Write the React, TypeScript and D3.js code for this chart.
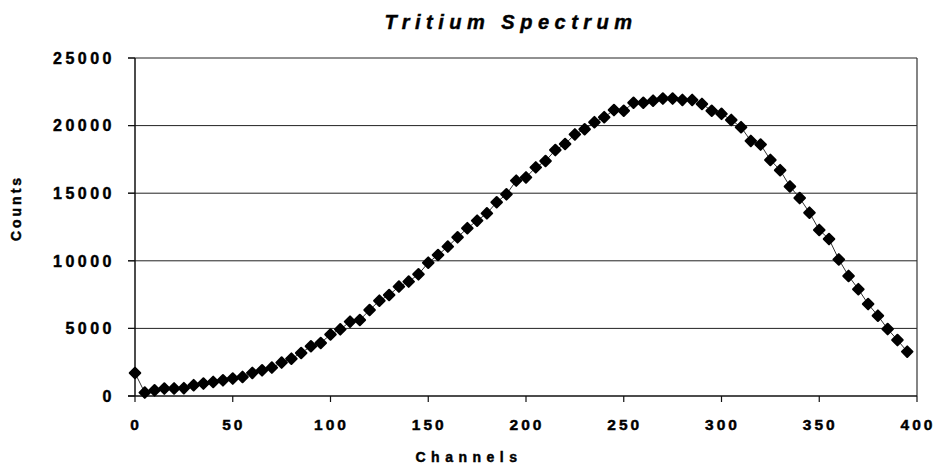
import React from 'react';
import * as d3 from 'd3';

// channel number of every point (every 5 channels)
const channels = [
  0, 5, 10, 15, 20, 25, 30, 35, 40, 45, 50, 55, 60, 65, 70, 75, 80, 85, 90, 95,
  100, 105, 110, 115, 120, 125, 130, 135, 140, 145, 150, 155, 160, 165, 170, 175, 180, 185, 190, 195,
  200, 205, 210, 215, 220, 225, 230, 235, 240, 245, 250, 255, 260, 265, 270, 275, 280, 285, 290, 295,
  300, 305, 310, 315, 320, 325, 330, 335, 340, 345, 350, 355, 360, 365, 370, 375, 380, 385, 390, 395,
];

// counts
const counts = [
  1700, 250, 420, 550, 560, 580, 800, 920, 1040, 1160, 1290, 1410, 1710, 1900, 2100, 2470, 2760, 3180, 3680, 3920,
  4550, 4930, 5500, 5620, 6360, 7050, 7470, 8090, 8460, 9000, 9860, 10430, 11050, 11740, 12410, 12970, 13510, 14330, 14920, 15930,
  16170, 16910, 17380, 18190, 18640, 19350, 19730, 20250, 20620, 21150, 21100, 21690, 21690, 21840, 22000, 22000, 21900, 21900, 21600, 21100,
  20870, 20420, 19880, 18870, 18600, 17460, 16700, 15500, 14640, 13560, 12280, 11610, 10100, 8880, 7900, 6800, 5940, 4950, 4140, 3280,
];

const xTicks = [0, 50, 100, 150, 200, 250, 300, 350, 400];
const yTicks = [0, 5000, 10000, 15000, 20000, 25000];

const font = '"Liberation Sans", Arial, sans-serif';
// the scanned labels are heavy, a thin stroke thickens them a bit
const heavy = { stroke: '#000', strokeWidth: 0.45 };

export default function App() {
  const x = d3.scaleLinear().domain([0, 400]).range([135, 917]);
  const y = d3.scaleLinear().domain([0, 25000]).range([396, 58]);

  const pts = channels.map((c, i) => [c, counts[i]] as [number, number]);
  const line = d3.line<[number, number]>()
    .x(d => x(d[0]))
    .y(d => y(d[1]));
  const diamond = d3.symbol().type(d3.symbolSquare).size(56)();

  return (
    <svg width={936} height={472} style={{ position: 'absolute', left: 0, top: 0, background: '#fff' }}>
      {/* title */}
      <text x={511} y={29} textAnchor="middle" fontFamily={font} fontWeight="bold" fontStyle="italic"
        fontSize={20} letterSpacing={5.5} fill="#000" {...heavy}>Tritium Spectrum</text>

      {/* grid lines */}
      {yTicks.filter(t => t > 0).map(t => (
        <line key={t} x1={128} x2={917} y1={y(t)} y2={y(t)} stroke="#222" strokeWidth={1} />
      ))}
      {/* right border */}
      <line x1={917} x2={917} y1={y(25000)} y2={y(0)} stroke="#333" strokeWidth={1.2} />

      {/* y axis */}
      <line x1={135} x2={135} y1={y(25000)} y2={y(0)} stroke="#111" strokeWidth={1.5} />
      {yTicks.map(t => (
        <g key={t}>
          <line x1={128} x2={135} y1={y(t)} y2={y(t)} stroke="#111" strokeWidth={1.2} />
          <text x={115} y={y(t)} dy="0.36em" textAnchor="end" fontFamily={font} fontWeight="bold"
            fontSize={16} letterSpacing={3.5} fill="#000" {...heavy}>{t}</text>
        </g>
      ))}

      {/* x axis */}
      <line x1={128} x2={917} y1={y(0)} y2={y(0)} stroke="#111" strokeWidth={1.5} />
      {xTicks.map(t => (
        <g key={t}>
          <line x1={x(t)} x2={x(t)} y1={y(0)} y2={y(0) + 6} stroke="#111" strokeWidth={1.2} />
          <text x={x(t) + 1} y={430} textAnchor="middle" fontFamily={font} fontWeight="bold"
            fontSize={15.5} letterSpacing={3} fill="#000" {...heavy}>{t}</text>
        </g>
      ))}

      {/* axis titles */}
      <text x={469} y={462} textAnchor="middle" fontFamily={font} fontWeight="bold"
        fontSize={14} letterSpacing={5.5} fill="#000" {...heavy}>Channels</text>
      <text transform="translate(21,208) rotate(-90)" textAnchor="middle" fontFamily={font} fontWeight="bold"
        fontSize={14} letterSpacing={3} fill="#000" {...heavy}>Counts</text>

      {/* series */}
      <path d={line(pts) ?? ''} fill="none" stroke="#333" strokeWidth={1} />
      {pts.map((p, i) => (
        <path key={i} d={diamond} transform={`translate(${x(p[0])},${y(p[1])}) rotate(45)`}
          fill="#000" stroke="#000" strokeWidth={2} strokeLinejoin="round" />
      ))}
    </svg>
  );
}
